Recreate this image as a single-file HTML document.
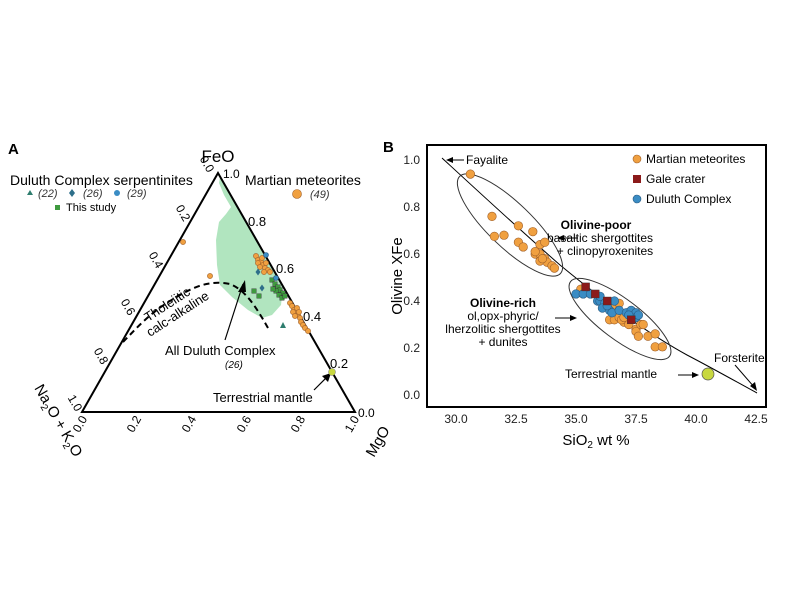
<!DOCTYPE html>
<html><head><meta charset="utf-8"><style>
html,body{margin:0;padding:0;background:#fff;}
svg{display:block;font-family:"Liberation Sans",sans-serif;}
</style></head><body>
<svg id="s" width="800" height="600" viewBox="0 0 800 600" xmlns="http://www.w3.org/2000/svg">
<rect width="800" height="600" fill="#fff"/>
<!-- Panel A -->
<text x="8" y="154" font-size="15" font-weight="bold">A</text>
<path d="M220,177 L283,287 L281,305 L272,315 L262,318 L248,310 L232,297 L220,285 L217,265 L216,240 L219,222 L226,214 L231,207 L224,195 L219,183 Z" fill="#a8e2b8" opacity="0.9"/>
<path d="M123,342 C135,330 150,312 175,298 C195,286 210,280 230,284 C245,290 255,305 268,328" fill="none" stroke="#000" stroke-width="2" stroke-dasharray="6,4"/>
<polygon points="218,173 82,412 355,412" fill="none" stroke="#000" stroke-width="2"/>
<text x="218" y="162" font-size="17" text-anchor="middle">FeO</text>
<text x="223" y="178" font-size="12">1.0</text>
<text x="248" y="226" font-size="13">0.8</text>
<text x="276" y="273" font-size="13">0.6</text>
<text x="303" y="321" font-size="13">0.4</text>
<text x="330" y="368" font-size="13">0.2</text>
<text x="358" y="417" font-size="12">0.0</text>
<g font-size="12" text-anchor="middle">
<text transform="translate(207,164) rotate(60)" dy="4">0.0</text>
<text transform="translate(183,213) rotate(60)" dy="4">0.2</text>
<text transform="translate(156,260) rotate(60)" dy="4">0.4</text>
<text transform="translate(128,307) rotate(60)" dy="4">0.6</text>
<text transform="translate(101,356) rotate(60)" dy="4">0.8</text>
<text transform="translate(75,403) rotate(60)" dy="4">1.0</text>
<text transform="translate(80,424) rotate(-60)" dy="4">0.0</text>
<text transform="translate(134,424) rotate(-60)" dy="4">0.2</text>
<text transform="translate(189,424) rotate(-60)" dy="4">0.4</text>
<text transform="translate(244,424) rotate(-60)" dy="4">0.6</text>
<text transform="translate(298,424) rotate(-60)" dy="4">0.8</text>
<text transform="translate(352,424) rotate(-60)" dy="4">1.0</text>
</g>
<text transform="translate(34,388) rotate(60)" font-size="15">Na<tspan font-size="10" dy="4">2</tspan><tspan dy="-4">O + K</tspan><tspan font-size="10" dy="4">2</tspan><tspan dy="-4">O</tspan></text>
<text transform="translate(374,458) rotate(-60)" font-size="15">MgO</text>
<text x="10" y="185" font-size="14">Duluth Complex serpentinites</text>
<g font-size="11" font-style="italic" fill="#333"><text x="38" y="197">(22)</text><text x="83" y="197">(26)</text><text x="127" y="197">(29)</text></g>
<polygon points="30,190 33,195 27,195" fill="#2e7d6e"/>
<polygon points="72,189 75,193 72,197 69,193" fill="#2e6f8a"/>
<circle cx="117" cy="193" r="3" fill="#3a8cc4"/>
<rect x="55" y="205" width="5" height="5" fill="#3f9a3f"/>
<text x="66" y="211" font-size="11">This study</text>
<text x="245" y="185" font-size="14">Martian meteorites</text>
<circle cx="297" cy="194" r="4.5" fill="#f0a040" stroke="#a0602a" stroke-width="0.6"/>
<text x="310" y="198" font-size="11" font-style="italic" fill="#333">(49)</text>
<text transform="translate(148,322) rotate(-33)" font-size="13">Tholeiitic</text>
<text transform="translate(150,337) rotate(-33)" font-size="13">calc-alkaline</text>
<text x="165" y="355" font-size="13">All Duluth Complex</text>
<text x="225" y="368" font-size="10" font-style="italic">(26)</text>
<line x1="225" y1="340" x2="243" y2="284" stroke="#000" stroke-width="1.2"/>
<polygon points="245,280 238,292 246,292" fill="#000"/>
<text x="213" y="402" font-size="13">Terrestrial mantle</text>
<line x1="314" y1="390" x2="328" y2="376" stroke="#000" stroke-width="1.2"/>
<polygon points="331,373 322,376 328,382" fill="#000"/>
<circle cx="332" cy="372" r="3.5" fill="#c8d840" stroke="#777" stroke-width="0.5"/>
<g id="ga"></g>
<!-- Panel B -->
<text x="383" y="152" font-size="15" font-weight="bold">B</text>
<rect x="427" y="145" width="339" height="262" fill="none" stroke="#000" stroke-width="2"/>
<path d="M442,158 C480,193 520,230 560,265 C600,298 645,332 687,355 C712,368 735,381 757,393" fill="none" stroke="#000" stroke-width="1"/>
<ellipse cx="510" cy="225" rx="70" ry="22" transform="rotate(44 510 225)" fill="none" stroke="#333" stroke-width="1"/>
<ellipse cx="620" cy="319" rx="62" ry="20" transform="rotate(37 620 319)" fill="none" stroke="#333" stroke-width="1"/>
<g font-size="12" fill="#222" text-anchor="end">
<text x="420" y="164">1.0</text><text x="420" y="211">0.8</text><text x="420" y="258">0.6</text><text x="420" y="305">0.4</text><text x="420" y="352">0.2</text><text x="420" y="399">0.0</text>
</g>
<g font-size="12" fill="#222" text-anchor="middle">
<text x="456" y="423">30.0</text><text x="516" y="423">32.5</text><text x="576" y="423">35.0</text><text x="636" y="423">37.5</text><text x="696" y="423">40.0</text><text x="756" y="423">42.5</text>
</g>
<text x="596" y="445" font-size="15" text-anchor="middle">SiO<tspan font-size="10" dy="3">2</tspan><tspan dy="-3"> wt %</tspan></text>
<text transform="translate(402,276) rotate(-90)" font-size="15" text-anchor="middle">Olivine XFe</text>
<text x="466" y="164" font-size="12">Fayalite</text>
<line x1="448" y1="160" x2="464" y2="160" stroke="#000"/><polygon points="446,160 453,157 453,163" fill="#000"/>
<text x="596" y="229" font-size="12" font-weight="bold" text-anchor="middle">Olivine-poor</text>
<text x="600" y="242" font-size="12" text-anchor="middle">basaltic shergottites</text>
<text x="605" y="255" font-size="12" text-anchor="middle">+ clinopyroxenites</text>
<line x1="560" y1="238" x2="578" y2="238" stroke="#000"/><polygon points="557,238 564,235 564,241" fill="#000"/>
<text x="503" y="307" font-size="12" font-weight="bold" text-anchor="middle">Olivine-rich</text>
<text x="503" y="320" font-size="12" text-anchor="middle">ol,opx-phyric/</text>
<text x="503" y="333" font-size="12" text-anchor="middle">lherzolitic shergottites</text>
<text x="503" y="346" font-size="12" text-anchor="middle">+ dunites</text>
<line x1="555" y1="318" x2="573" y2="318" stroke="#000"/><polygon points="577,318 570,315 570,321" fill="#000"/>
<text x="565" y="378" font-size="12">Terrestrial mantle</text>
<line x1="678" y1="375" x2="695" y2="375" stroke="#000"/><polygon points="699,375 692,372 692,378" fill="#000"/>
<circle cx="708" cy="374" r="6" fill="#c8d840" stroke="#555" stroke-width="0.7"/>
<text x="714" y="362" font-size="12">Forsterite</text>
<line x1="735" y1="365" x2="755" y2="388" stroke="#000"/><polygon points="757,391 750,386 755,382" fill="#000"/>
<circle cx="637" cy="159" r="4" fill="#f0a040" stroke="#a0602a" stroke-width="0.6"/>
<text x="646" y="163" font-size="12">Martian meteorites</text>
<rect x="633" y="175" width="8" height="8" fill="#8b1a1a"/>
<text x="646" y="183" font-size="12">Gale crater</text>
<circle cx="637" cy="199" r="4" fill="#3a8cc4" stroke="#2a5a80" stroke-width="0.6"/>
<text x="646" y="203" font-size="12">Duluth Complex</text>
<g id="gb"></g>
</svg>
<script>
var NS="http://www.w3.org/2000/svg";
function c(g,x,y,r,f,s){var e=document.createElementNS(NS,"circle");e.setAttribute("cx",x);e.setAttribute("cy",y);e.setAttribute("r",r);e.setAttribute("fill",f);e.setAttribute("stroke",s);e.setAttribute("stroke-width","0.6");g.appendChild(e);}
function q(g,x,y,w,f){var e=document.createElementNS(NS,"rect");e.setAttribute("x",x-w/2);e.setAttribute("y",y-w/2);e.setAttribute("width",w);e.setAttribute("height",w);e.setAttribute("fill",f);e.setAttribute("stroke","#333");e.setAttribute("stroke-width","0.4");g.appendChild(e);}
var ga=document.getElementById("ga"),gb=document.getElementById("gb");
var OR="#f0a040",ORS="#a0602a";
[[183,242],[210,276],[256,256],[258,260],[261,262],[263,265],[265,268],[258,263],[262,258],[266,263],[268,270],[264,272],[270,272],[260,267],[290,303],[292,306],[294,310],[296,312],[298,315],[300,318],[293,312],[297,308],[301,322],[303,325],[305,328],[308,331],[295,316],[299,312]].forEach(function(p){c(ga,p[0],p[1],2.6,OR,ORS);});
[[272,280],[275,284],[278,287],[280,290],[283,293],[276,291],[279,295],[282,298],[285,296],[273,289],[254,291],[259,296]].forEach(function(p){q(ga,p[0],p[1],4.5,"#3f9a3f");});
c(ga,266,255,2.5,"#3a8cc4","#2a5a80");c(ga,276,278,2.5,"#3a8cc4","#2a5a80");
[[258,272],[262,288]].forEach(function(p){var e=document.createElementNS(NS,"polygon");e.setAttribute("points",(p[0])+","+(p[1]-3.5)+" "+(p[0]+2.5)+","+p[1]+" "+p[0]+","+(p[1]+3.5)+" "+(p[0]-2.5)+","+p[1]);e.setAttribute("fill","#2e6f8a");ga.appendChild(e);});
var t=document.createElementNS(NS,"polygon");t.setAttribute("points","283,322 286,328 280,328");t.setAttribute("fill","#2e7d6e");ga.appendChild(t);
function X(v){return 456+(v-30)*24;}function Y(v){return 395-v*235;}
var o=[[30.6,.94],[31.5,.76],[31.6,.675],[32,.68],[32.6,.72],[33.2,.695],[32.6,.65],[32.8,.63],[33.3,.6],[33.5,.64],[33.7,.65],[33.5,.57],[33.5,.6],[33.7,.58],[33.8,.565],[34,.55],[34.1,.54],[33.6,.58],[33.3,.61],
[35.2,.45],[36.5,.38],[36.8,.39],[36.4,.32],[36.6,.32],[36.8,.33],[37,.31],[37.2,.3],[37.5,.28],[37.7,.3],[37.8,.3],[37.5,.27],[37.6,.25],[38,.25],[38.3,.26],[38.3,.205],[38.6,.205],[36.9,.32],[37,.33]];
o.forEach(function(p){c(gb,X(p[0]),Y(p[1]),4.3,OR,ORS);});
var b=[[35,.43],[35.3,.43],[35.6,.43],[35.9,.4],[36,.4],[36.2,.39],[36.1,.37],[36.4,.36],[36.6,.4],[36.5,.35],[36.8,.36],[37.1,.35],[37.3,.36],[37.5,.35],[37.5,.33],[37.6,.34],[37.2,.34],[36,.42],[36.3,.38]];
b.forEach(function(p){c(gb,X(p[0]),Y(p[1]),4.3,"#3a8cc4","#2a5a80");});
[[35.4,.46],[35.8,.43],[36.3,.4],[37.3,.32]].forEach(function(p){q(gb,X(p[0]),Y(p[1]),8,"#8b1a1a");});
</script>
</body></html>
